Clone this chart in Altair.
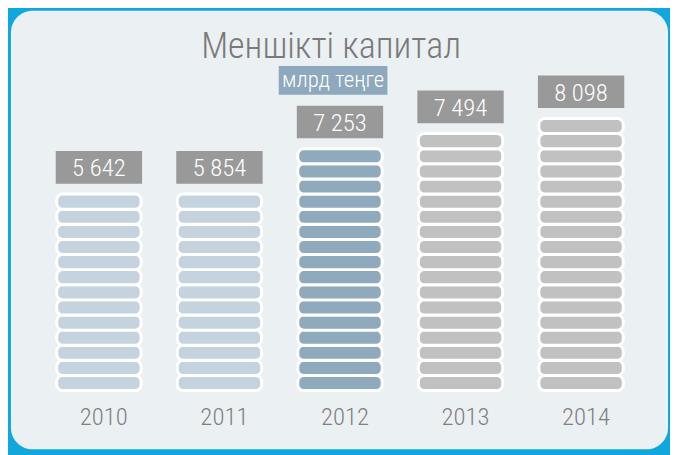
import altair as alt
import pandas as pd

# ---- data ----
years = ["2010", "2011", "2012", "2013", "2014"]
values = [5642, 5854, 7253, 7494, 8098]          # млрд теңге
segments = [13, 13, 16, 17, 18]                  # stacked blocks per bar
title_text = "Меншікті капитал"
unit_text = "млрд теңге"

bar_colors = ["#c5d3de", "#c5d3de", "#8fa9bd", "#c1c1c1", "#c1c1c1"]

FONT = "Roboto Condensed, Liberation Sans Narrow, Arial Narrow, DejaVu Sans Condensed, sans-serif"
WEIGHT = 300

W, H = 670, 447

totals = pd.DataFrame({"year": years, "value": values, "seg": segments})
rows = []
for y, n in zip(years, segments):
    for i in range(n):
        rows.append({"year": y, "y0": i, "y1": i + 1})
seg_df = pd.DataFrame(rows)
one = pd.DataFrame({"k": [0]})

xscale = alt.Scale(domain=years, range=[31, 641], paddingInner=0.3, paddingOuter=0.15)
yscale = alt.Scale(domain=[0, 25], range=[384.5, 2], nice=False, zero=False)
cscale = alt.Scale(domain=years, range=bar_colors)

X = alt.X("year:N", scale=xscale, axis=None, sort=years)

panel = alt.Chart(one).mark_rect(fill="#ebf0f3", cornerRadius=22).encode(
    x=alt.value(3), x2=alt.value(668), y=alt.value(0), y2=alt.value(444)
)

title = alt.Chart(one).mark_text(
    text=title_text, font=FONT, fontSize=36.5, fontWeight=WEIGHT, color="#7a7a7a",
    align="center", baseline="alphabetic"
).encode(x=alt.value(327), y=alt.value(48))

unit_box = alt.Chart(one).mark_rect(fill="#8ea8bd").encode(
    x=alt.value(274), x2=alt.value(384), y=alt.value(56), y2=alt.value(85)
)
unit_lbl = alt.Chart(one).mark_text(
    text=unit_text, font=FONT, fontSize=23, fontWeight=WEIGHT, color="white",
    align="center", baseline="alphabetic"
).encode(x=alt.value(329), y=alt.value(77))

blocks = alt.Chart(seg_df).mark_bar(
    stroke="white", strokeWidth=3, cornerRadius=6
).encode(
    x=X,
    y=alt.Y("y0:Q", scale=yscale, axis=None),
    y2="y1:Q",
    color=alt.Color("year:N", scale=cscale, legend=None),
)

boxes = alt.Chart(totals).transform_calculate(
    b0="datum.seg + 0.75", b1="datum.seg + 2.78"
).mark_bar(fill="#999999", stroke="#999999", strokeWidth=2).encode(
    x=X,
    y=alt.Y("b0:Q", scale=yscale, axis=None),
    y2="b1:Q",
)

box_text = alt.Chart(totals).transform_calculate(
    ty="datum.seg + 1.765",
    lbl="replace(format(datum.value, ','), ',', ' ')",
).mark_text(
    font=FONT, fontSize=25, fontWeight=WEIGHT, color="white", align="center",
    baseline="middle", dy=1
).encode(
    x=X,
    y=alt.Y("ty:Q", scale=yscale, axis=None),
    text="lbl:N",
)

year_text = alt.Chart(totals).mark_text(
    font=FONT, fontSize=25, fontWeight=WEIGHT, color="#808080", align="center",
    baseline="alphabetic", dx=5
).encode(
    x=X,
    y=alt.value(419),
    text="year:N",
)

chart = alt.layer(
    panel, title, unit_box, unit_lbl, blocks, boxes, box_text, year_text
).properties(
    width=W, height=H,
    autosize=alt.AutoSizeParams(type="none"),
    padding=0,
).configure(background="#10a8dc").configure_view(stroke=None)

chart.save("out.html", embed_options={"renderer": "svg", "actions": False})
